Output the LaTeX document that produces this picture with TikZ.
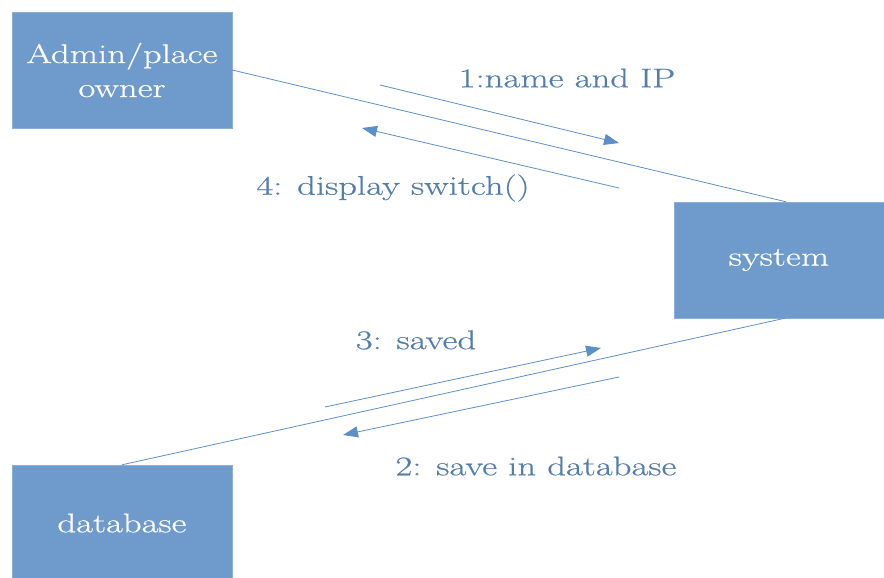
\documentclass[tikz,border=0pt]{standalone}
\usepackage{fontspec}
\newfontfamily\diagfont[FakeStretch=1.36,FakeBold=0.5]{Latin Modern Roman}
\usetikzlibrary{arrows.meta,positioning}

\definecolor{boxblue}{HTML}{6F9BCC}
\definecolor{lineblue}{HTML}{5B8FCA}
\definecolor{textblue}{HTML}{527EAE}

\begin{document}
\begin{tikzpicture}[x=1pt,y=-1pt]
\tikzset{ObjStyle/.style =
	{shape = rectangle,
		fill = boxblue,
		draw = boxblue!80!white,
		text = white,
		font = \diagfont\fontsize{27}{34}\selectfont,
		align = center,
		minimum height = 116pt,
		inner sep = 0pt},
	LinkStyle/.style = {lineblue, line width=0.8pt},
	MsgStyle/.style = {lineblue, line width=0.8pt, -{Triangle[length=15pt,width=11pt]}},
	MsgLabel/.style = {text = textblue, font = \diagfont\fontsize{27}{34}\selectfont}}
\useasboundingbox (0,0) rectangle (884,578);

\node[ObjStyle, minimum width=220pt] (admin) at (122,70) {Admin/place\\owner};
\node[ObjStyle, minimum width=210pt] (system) at (779,260) {system};
\node[ObjStyle, minimum width=220pt] (database) at (122,523) {database};

% links
\draw[LinkStyle] (admin.east) -- ([xshift=7pt]system.north);
\draw[LinkStyle] ([xshift=6pt]system.south) -- (database.north);

% message ends
\coordinate (m1a) at (380,85);
\coordinate (m1b) at (619,143);
\coordinate (m4a) at (619,188);
\coordinate (m4b) at (362,128);
\coordinate (m3a) at (325,407);
\coordinate (m3b) at (601,348);
\coordinate (m2a) at (619,377);
\coordinate (m2b) at (343,435);

\draw[MsgStyle] (m1a) -- (m1b);
\draw[MsgStyle] (m4a) -- (m4b);
\draw[MsgStyle] (m3a) -- (m3b);
\draw[MsgStyle] (m2a) -- (m2b);

\node[MsgLabel] (lab1) at (567,78) {1:name and IP};
\node[MsgLabel] (lab4) at (393,188) {4: display switch()};
\node[MsgLabel] (lab3) at (416,340) {3: saved};
\node[MsgLabel] (lab2) at (536,466) {2: save in database};
\end{tikzpicture}
\end{document}
